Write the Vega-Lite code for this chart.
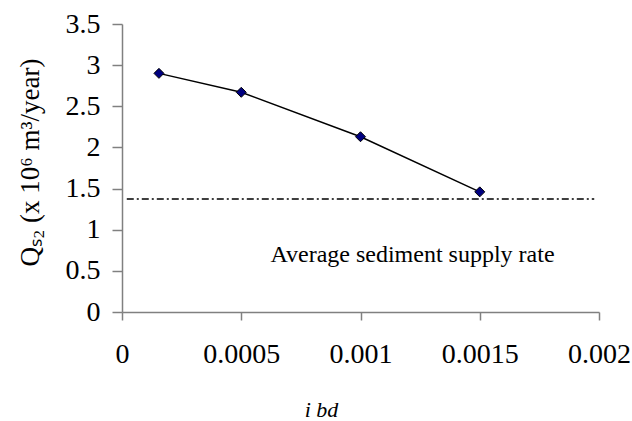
{
  "$schema": "https://vega.github.io/schema/vega-lite/v6.json",
  "autosize": "none",
  "width": 477,
  "height": 288,
  "padding": {"left": 122, "top": 24, "right": 33, "bottom": 109},
  "background": "white",
  "config": {
    "view": {"stroke": null},
    "font": "Liberation Serif",
    "axis": {
      "grid": false,
      "domainColor": "#808080",
      "tickColor": "#808080",
      "domainWidth": 1.5,
      "tickWidth": 1.5,
      "labelFont": "Liberation Serif",
      "labelFontSize": 28,
      "labelColor": "black",
      "titleFont": "Liberation Serif",
      "titleColor": "black",
      "titleFontWeight": "normal"
    }
  },
  "datasets": {
    "series": [
      {"ibd": 0.000155, "Qs2": 2.90},
      {"ibd": 0.0005, "Qs2": 2.67},
      {"ibd": 0.001, "Qs2": 2.13},
      {"ibd": 0.0015, "Qs2": 1.46}
    ],
    "average": [
      {"x1": 0.00002, "x2": 0.00198, "Qs2": 1.373}
    ],
    "note": [
      {"ibd": 0.001218, "Qs2": 0.69, "label": "Average sediment supply rate"}
    ]
  },
  "layer": [
    {
      "data": {"name": "average"},
      "mark": {"type": "rule", "color": "black", "strokeWidth": 1.5, "strokeDash": [7, 3, 2, 3]},
      "encoding": {
        "x": {"field": "x1", "type": "quantitative", "scale": {"domain": [0, 0.002]}},
        "x2": {"field": "x2"},
        "y": {"field": "Qs2", "type": "quantitative", "scale": {"domain": [0, 3.5]}}
      }
    },
    {
      "data": {"name": "series"},
      "mark": {"type": "line", "color": "black", "strokeWidth": 1.5},
      "encoding": {
        "x": {
          "field": "ibd", "type": "quantitative",
          "scale": {"domain": [0, 0.002], "nice": false},
          "axis": {
            "values": [0, 0.0005, 0.001, 0.0015, 0.002],
            "format": "~g",
            "tickSize": 8,
            "labelPadding": 20,
            "labelFlush": false,
            "title": "i bd",
            "titleFontSize": 22,
            "titleFontStyle": "italic",
            "titleX": 199,
            "titleY": 104,
            "titleAlign": "center",
            "titleBaseline": "alphabetic"
          }
        },
        "y": {
          "field": "Qs2", "type": "quantitative",
          "scale": {"domain": [0, 3.5], "nice": false},
          "axis": {
            "values": [0, 0.5, 1, 1.5, 2, 2.5, 3, 3.5],
            "format": "~g",
            "tickSize": 10,
            "labelPadding": 12,
            "labelFlush": false,
            "title": "Qₛ₂ (x 10⁶ m³/year)",
            "titleFontSize": 27,
            "titleX": -92,
            "titleY": 138,
            "titleAngle": 270,
            "titleAlign": "center",
            "titleBaseline": "middle"
          }
        }
      }
    },
    {
      "data": {"name": "series"},
      "mark": {"type": "point", "shape": "diamond", "filled": true, "fill": "#000080", "stroke": "black", "strokeWidth": 1, "size": 100, "opacity": 1},
      "encoding": {
        "x": {"field": "ibd", "type": "quantitative"},
        "y": {"field": "Qs2", "type": "quantitative"}
      }
    },
    {
      "data": {"name": "note"},
      "mark": {"type": "text", "font": "Liberation Serif", "fontSize": 24, "color": "black", "align": "center", "baseline": "middle"},
      "encoding": {
        "x": {"field": "ibd", "type": "quantitative"},
        "y": {"field": "Qs2", "type": "quantitative"},
        "text": {"field": "label"}
      }
    }
  ]
}
